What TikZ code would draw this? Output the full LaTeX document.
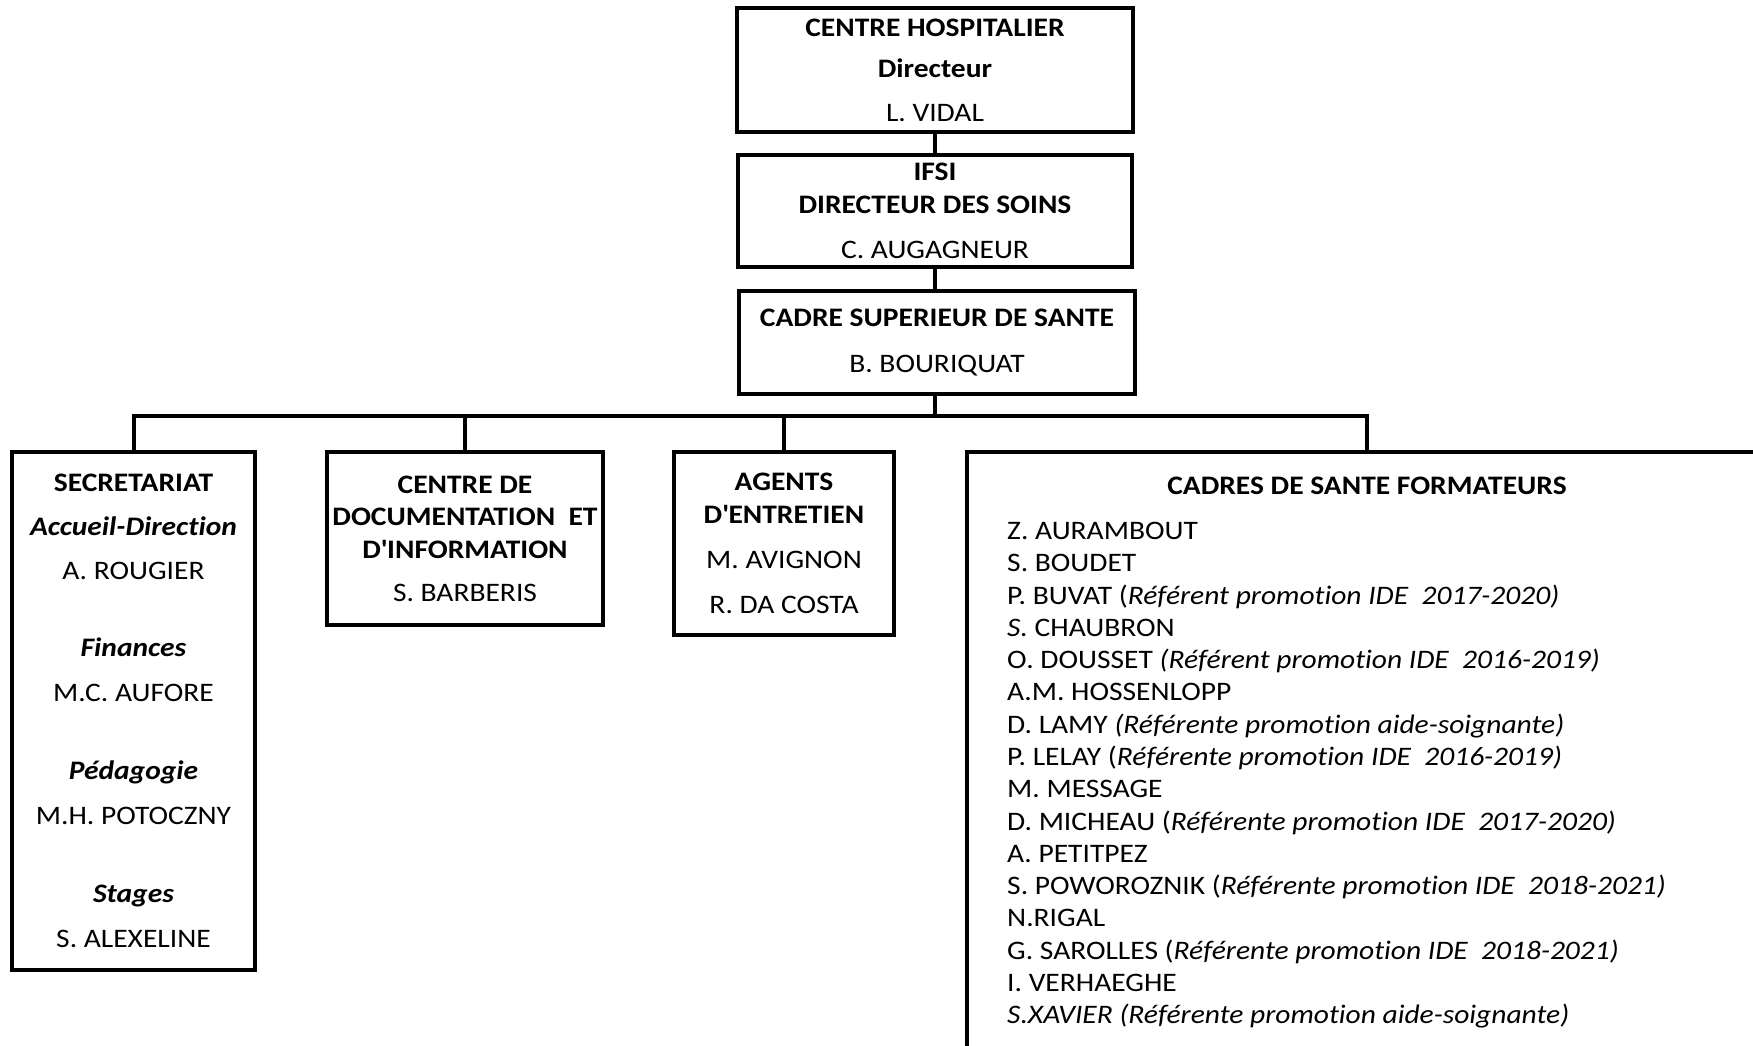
\documentclass[tikz,border=0pt]{standalone}
\usepackage{fontspec}
\setmainfont{Carlito}[FakeStretch=1.105, Ligatures=NoCommon]
\usepackage{tikz}

\tikzset{
  orgbox/.style={draw, line width=4pt, inner sep=0pt, align=center, font=\fontsize{26.7}{32.5}\selectfont},
  link/.style={line width=4pt},
  listtext/.style={inner sep=0pt, align=left, font=\fontsize{26.7}{32.27}\selectfont}
}

\begin{document}
\begin{tikzpicture}[x=1pt, y=-1pt]
    \useasboundingbox (0, 0) rectangle (1753, 1045);
    \clip (0, 0) rectangle (1753, 1045);

    \node[orgbox, minimum width=396pt, minimum height=124pt] (chef) at (935, 70)
      {\textbf{CENTRE HOSPITALIER}\\[8.5pt]\textbf{Directeur}\\[11.5pt]L. VIDAL};
    \node[orgbox, minimum width=394pt, minimum height=112pt] (ifsi) at (935, 211)
      {\textbf{IFSI}\\\textbf{DIRECTEUR DES SOINS}\\[12.5pt]C. AUGAGNEUR};
    \node[orgbox, minimum width=396pt, minimum height=103pt] (cadresup) at (937, 342.5)
      {\textbf{CADRE SUPERIEUR DE SANTE}\\[13.5pt]B. BOURIQUAT};

    \node[orgbox, minimum width=243pt, minimum height=518pt] (secr) at (133.5, 711)
      {\textbf{SECRETARIAT}\\[11.5pt]\textbf{\textit{Accueil-Direction}}\\[11.5pt]A. ROUGIER\\[44.5pt]%
       \textbf{\textit{Finances}}\\[12.5pt]M.C. AUFORE\\[45.5pt]%
       \textbf{\textit{Pédagogie}}\\[12.5pt]M.H. POTOCZNY\\[45.5pt]%
       \textbf{\textit{Stages}}\\[12.5pt]S. ALEXELINE};
    \node[orgbox, minimum width=276pt, minimum height=173pt] (cdi) at (465, 538.5)
      {\textbf{CENTRE DE}\\\textbf{DOCUMENTATION\ \ ET}\\\textbf{D\textquotesingle INFORMATION}\\[10.5pt]S. BARBERIS};
    \node[orgbox, minimum width=220pt, minimum height=183pt] (agents) at (784, 543.5)
      {\textbf{AGENTS}\\\textbf{D\textquotesingle ENTRETIEN}\\[12.5pt]M. AVIGNON\\[12.5pt]R. DA COSTA};
    \node[orgbox, minimum width=800pt, minimum height=620pt] (form) at (1367, 762) {};

    \node[listtext, anchor=base] (formtitle) at (1367, 494) {\textbf{CADRES DE SANTE FORMATEURS}};
    \node[listtext, anchor=north west] (formlist) at (1007, 522.1)
      {Z. AURAMBOUT\\
       S. BOUDET\\
       P. BUVAT (\textit{Référent promotion IDE\ \ 2017-2020)}\\
       \textit{S.} CHAUBRON\\
       O. DOUSSET \textit{(Référent promotion IDE\ \ 2016-2019)}\\
       A.M. HOSSENLOPP\\
       D. LAMY \textit{(Référente promotion aide-soignante)}\\
       P. LELAY (\textit{Référente promotion IDE\ \ 2016-2019)}\\
       M. MESSAGE\\
       D. MICHEAU (\textit{Référente promotion IDE\ \ 2017-2020)}\\
       A. PETITPEZ\\
       S. POWOROZNIK (\textit{Référente promotion IDE\ \ 2018-2021)}\\
       N.RIGAL\\
       G. SAROLLES (\textit{Référente promotion IDE\ \ 2018-2021)}\\
       I. VERHAEGHE\\
       \textit{S.XAVIER (Référente promotion aide-soignante)}};

    \coordinate (bus) at (935, 416);
    \draw[link] (chef) -- (ifsi);
    \draw[link] (ifsi.south) -- (ifsi.south |- cadresup.north);
    \draw[link] (cadresup.south -| bus) -- (bus);
    \draw[link] (secr.north) |- (bus) -| (form.north);
    \draw[link] (cdi.north) -- (cdi.north |- bus);
    \draw[link] (agents.north) -- (agents.north |- bus);
\end{tikzpicture}
\end{document}
